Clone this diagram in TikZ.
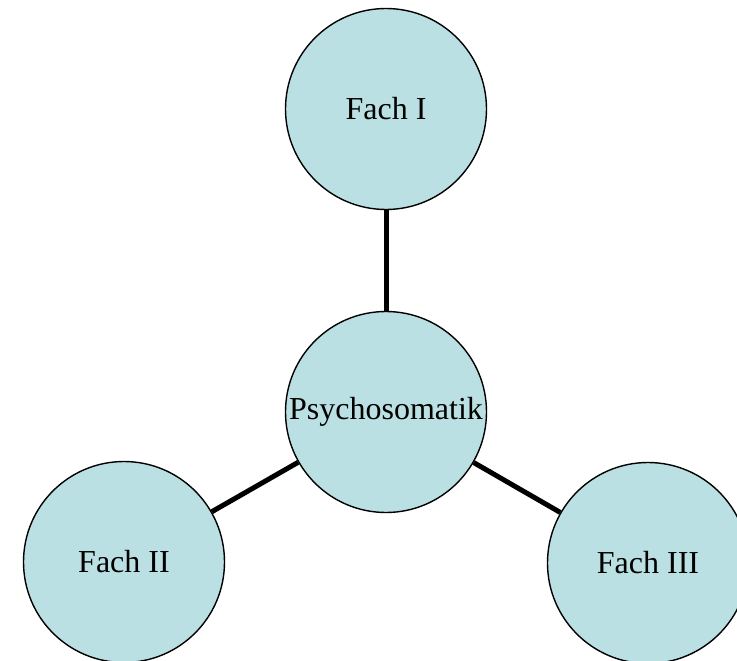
\documentclass[tikz,border=0pt]{standalone}
\usepackage{fontspec}
\setmainfont{Liberation Serif}
\definecolor{bubble}{HTML}{BBE0E3}
\begin{document}
\begin{tikzpicture}[x=1pt,y=-1pt,
  bub/.style={circle,draw=black,line width=1.4pt,fill=bubble,minimum size=201pt,inner sep=0pt,font=\fontsize{32}{38}\selectfont},
  link/.style={line width=5pt,black}]
\useasboundingbox (0,0) rectangle (737,661);
\clip (0,0) rectangle (737,661);
\node[bub] (p) at (386,412) {\raisebox{-2pt}{Psychosomatik}};
\node[bub] (f1) at (386,109) {\raisebox{-2pt}{Fach I}};
\node[bub] (f2) at (124,562) {\raisebox{-2pt}{Fach II}};
\node[bub] (f3) at (648,563) {\raisebox{-2pt}{Fach III}};
\draw[link] (p) -- (f1);
\draw[link] (p) -- (f2);
\draw[link] (p) -- (f3);
\end{tikzpicture}
\end{document}
